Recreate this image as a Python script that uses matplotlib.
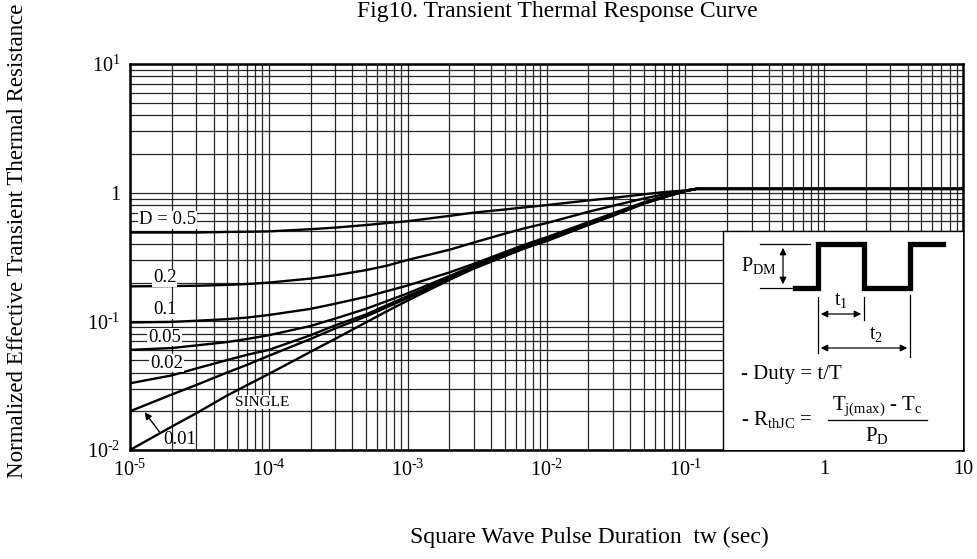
import matplotlib
matplotlib.use("Agg")
import matplotlib.pyplot as plt
from matplotlib.ticker import LogLocator, NullFormatter
from matplotlib.patches import Rectangle

plt.rcParams['font.family'] = ['Liberation Serif', 'DejaVu Serif']
plt.rcParams['mathtext.fontset'] = 'custom'
plt.rcParams['mathtext.rm'] = 'Liberation Serif'
plt.rcParams['mathtext.it'] = 'Liberation Serif:italic'

# ---- data ----
t = [1e-5, 2e-5, 3e-5, 5e-5, 7e-5, 1e-4, 2e-4, 3e-4, 5e-4, 7e-4, 1e-3, 2e-3, 3e-3,
     5e-3, 7e-3, 1e-2, 2e-2, 3e-2, 5e-2, 7e-2, 0.1, 0.12, 10]
z_d05 = [0.49, 0.49, 0.49, 0.495, 0.497, 0.50, 0.52, 0.535, 0.56, 0.58, 0.60, 0.66, 0.70,
         0.74, 0.77, 0.80, 0.87, 0.91, 0.97, 1.01, 1.04, 1.07, 1.07]
z_d02 = [0.187, 0.188, 0.189, 0.192, 0.195, 0.20, 0.215, 0.228, 0.25, 0.27, 0.30, 0.36, 0.41,
         0.48, 0.53, 0.58, 0.71, 0.79, 0.90, 0.97, 1.04, 1.07, 1.07]
z_d01 = [0.098, 0.099, 0.101, 0.104, 0.107, 0.112, 0.125, 0.137, 0.155, 0.171, 0.19, 0.24, 0.28,
         0.345, 0.395, 0.45, 0.59, 0.69, 0.84, 0.935, 1.03, 1.07, 1.07]
z_d005 = [0.060, 0.062, 0.065, 0.069, 0.073, 0.078, 0.092, 0.105, 0.125, 0.143, 0.165, 0.225, 0.27,
          0.335, 0.385, 0.44, 0.58, 0.68, 0.83, 0.93, 1.03, 1.07, 1.07]
z_d002 = [0.033, 0.038, 0.043, 0.050, 0.055, 0.060, 0.078, 0.093, 0.113, 0.133, 0.157, 0.218, 0.263,
          0.328, 0.376, 0.43, 0.57, 0.67, 0.83, 0.925, 1.03, 1.07, 1.07]
z_d001 = [0.020, 0.027, 0.032, 0.040, 0.046, 0.054, 0.073, 0.088, 0.109, 0.128, 0.152, 0.215, 0.26,
          0.325, 0.372, 0.425, 0.565, 0.665, 0.82, 0.92, 1.03, 1.07, 1.07]
z_single = [0.010, 0.0152, 0.0193, 0.0265, 0.032, 0.039, 0.058, 0.073, 0.098, 0.119, 0.145, 0.21, 0.257,
            0.32, 0.37, 0.42, 0.56, 0.66, 0.82, 0.92, 1.03, 1.07, 1.07]
series = [z_d05, z_d02, z_d01, z_d005, z_d002, z_d001, z_single]

H_ = '\u2010'
xticks = [1e-5, 1e-4, 1e-3, 1e-2, 1e-1, 1, 10]
xticklabels = [r'$\mathrm{10^{%s5}}$' % H_, r'$\mathrm{10^{%s4}}$' % H_, r'$\mathrm{10^{%s3}}$' % H_,
               r'$\mathrm{10^{%s2}}$' % H_, r'$\mathrm{10^{%s1}}$' % H_, '1', '10']
yticks = [1e-2, 1e-1, 1, 10]
yticklabels = [r'$\mathrm{10^{%s2}}$' % H_, r'$\mathrm{10^{%s1}}$' % H_, '1', r'$\mathrm{10^{1}}$']

W, H = 977, 559
fig = plt.figure(figsize=(W / 100, H / 100), dpi=100)
ax = fig.add_axes([130 / W, 1 - 450 / H, (963 - 130) / W, (450 - 64) / H])
ax.set_xscale('log')
ax.set_yscale('log')
ax.set_xlim(1e-5, 10)
ax.set_ylim(1e-2, 10)

ax.set_xticks(xticks)
ax.set_xticklabels(xticklabels)
ax.set_yticks(yticks)
ax.set_yticklabels(yticklabels)
ax.xaxis.set_minor_locator(LogLocator(base=10, subs=range(2, 10), numticks=20))
ax.yaxis.set_minor_locator(LogLocator(base=10, subs=range(2, 10), numticks=20))
ax.xaxis.set_minor_formatter(NullFormatter())
ax.yaxis.set_minor_formatter(NullFormatter())
ax.tick_params(which='both', length=0, labelsize=14.5, pad=7)
ax.grid(True, which='both', color='black', lw=0.9, alpha=0.85)
ax.set_axisbelow(True)
for s in ax.spines.values():
    s.set_linewidth(1.8)

for z in series:
    ax.plot(t, z, color='black', lw=1.7, solid_capstyle='butt', zorder=3)

bb = dict(facecolor='white', edgecolor='none', pad=0.5)


def px(x, y):
    return fig.transFigure.transform((x / W, 1 - y / H))


lab_kw = dict(transform=None, fontsize=13.5, va='center', ha='left', bbox=bb, zorder=4)
ax.text(*px(139, 220), 'D = 0.5', **lab_kw)
ax.text(*px(153, 278), '0.2', **lab_kw)
ax.text(*px(153, 310), '0.1', **lab_kw)
ax.text(*px(148, 337), '0.05', **lab_kw)
ax.text(*px(150, 363), '0.02', **lab_kw)
ax.text(*px(235, 402), 'SINGLE', transform=None, fontsize=11, va='center', ha='left',
        bbox=bb, zorder=4)
ax.text(*px(163, 440), '0.01', transform=None, fontsize=13.5, va='center', ha='left', zorder=4)

# ---- overlay with the pulse diagram (pixel coordinates) ----
ov = fig.add_axes([0, 0, 1, 1], facecolor='none')
ov.set_xlim(0, W)
ov.set_ylim(H, 0)
ov.axis('off')

ov.annotate('', xy=(143, 410), xytext=(161, 434),
            arrowprops=dict(arrowstyle='-|>', color='black', lw=1.0, mutation_scale=10))

ov.add_patch(Rectangle((723, 231), 963 - 723, 450 - 231, facecolor='white',
                       edgecolor='none', zorder=1))
ov.plot([723, 723, 963], [449, 231, 231], color='black', lw=1.0, zorder=2)

wx = [795, 818, 818, 864, 864, 910, 910, 943]
wy = [288, 288, 244, 244, 288, 288, 244, 244]
ov.plot(wx, wy, color='black', lw=3.8, solid_joinstyle='miter', zorder=3)

ov.plot([760, 810], [244, 244], color='black', lw=0.9, zorder=3)
ov.plot([760, 810], [288, 288], color='black', lw=0.9, zorder=3)
ov.annotate('', xy=(783, 245), xytext=(783, 287),
            arrowprops=dict(arrowstyle='<|-|>', color='black', lw=0.9, mutation_scale=10))
ov.text(759, 266, r'P$_\mathrm{DM}$', fontsize=14.5, ha='center', va='center', zorder=4)

ov.plot([818, 818], [297, 353], color='black', lw=0.9, zorder=3)
ov.plot([864, 864], [297, 320], color='black', lw=0.9, zorder=3)
ov.plot([910, 910], [295, 357], color='black', lw=0.9, zorder=3)
ov.annotate('', xy=(818, 314), xytext=(864, 314),
            arrowprops=dict(arrowstyle='<|-|>', color='black', lw=0.9, mutation_scale=10))
ov.annotate('', xy=(818, 348), xytext=(910, 348),
            arrowprops=dict(arrowstyle='<|-|>', color='black', lw=0.9, mutation_scale=10))
ov.text(841, 300, r't$_\mathrm{1}$', fontsize=14.5, ha='center', va='center', zorder=4)
ov.text(876, 335, r't$_\mathrm{2}$', fontsize=14.5, ha='center', va='center', zorder=4)

ov.text(741, 375, '- Duty = t/T', fontsize=15, ha='left', va='center', zorder=4)
ov.text(741, 420, r'- R$_\mathrm{thJC}$ =', fontsize=15, ha='left', va='center', zorder=4)
ov.plot([828, 927], [420, 420], color='black', lw=0.9, zorder=3)
ov.text(877, 406, r'T$_\mathrm{j(max)}$ - T$_\mathrm{c}$', fontsize=15, ha='center',
        va='center', zorder=4)
ov.text(877, 435, r'P$_\mathrm{D}$', fontsize=15, ha='center', va='center', zorder=4)

# ---- titles ----
fig.text(557 / W, 1 - 12 / H, 'Fig10. Transient Thermal Response Curve', fontsize=17,
         ha='center', va='center')
fig.text(589 / W, 1 - 537 / H, 'Square Wave Pulse Duration  tw (sec)', fontsize=17,
         ha='center', va='center')
fig.text(18 / W, 1 - 241 / H, 'Normalized Effective Transient Thermal Resistance',
         fontsize=16.5, rotation=90, ha='center', va='center')

fig.savefig('out.png', dpi=100)
